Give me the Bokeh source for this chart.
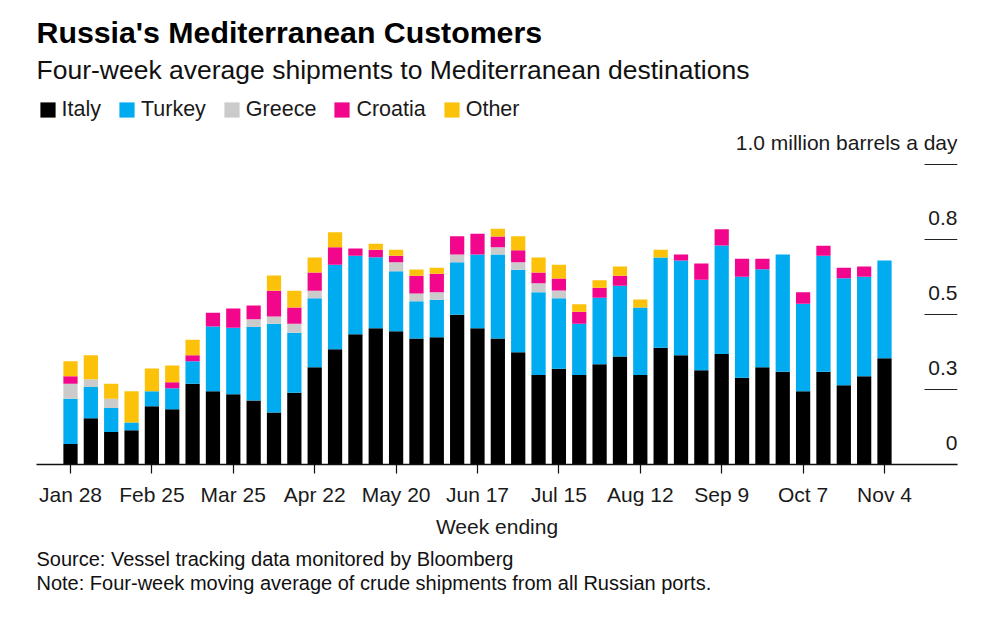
from bokeh.plotting import figure
from bokeh.models import ColumnDataSource, Legend, LegendItem, FixedTicker, Range1d, Title, Label
from bokeh.core.properties import value
from bokeh.embed import file_html
from bokeh.resources import INLINE

weeks = ["Jan 28", "Feb 4", "Feb 11", "Feb 18", "Feb 25", "Mar 4", "Mar 11", "Mar 18", "Mar 25",
         "Apr 1", "Apr 8", "Apr 15", "Apr 22", "Apr 29", "May 6", "May 13", "May 20", "May 27",
         "Jun 3", "Jun 10", "Jun 17", "Jun 24", "Jul 1", "Jul 8", "Jul 15", "Jul 22", "Jul 29",
         "Aug 5", "Aug 12", "Aug 19", "Aug 26", "Sep 2", "Sep 9", "Sep 16", "Sep 23", "Sep 30",
         "Oct 7", "Oct 14", "Oct 21", "Oct 28", "Nov 4"]

italy = [0.068, 0.154, 0.108, 0.114, 0.194, 0.184, 0.269, 0.244, 0.234, 0.213,
         0.173, 0.239, 0.324, 0.384, 0.434, 0.454, 0.444, 0.420, 0.424, 0.499,
         0.454, 0.420, 0.374, 0.298, 0.319, 0.298, 0.334, 0.360, 0.298, 0.389,
         0.364, 0.314, 0.368, 0.289, 0.324, 0.309, 0.244, 0.309, 0.264, 0.294, 0.354]
turkey = [0.151, 0.104, 0.080, 0.026, 0.050, 0.070, 0.075, 0.216, 0.222, 0.245,
          0.296, 0.200, 0.230, 0.282, 0.262, 0.237, 0.200, 0.124, 0.125, 0.175,
          0.246, 0.280, 0.275, 0.276, 0.235, 0.171, 0.222, 0.236, 0.225, 0.301,
          0.316, 0.302, 0.362, 0.337, 0.327, 0.391, 0.292, 0.387, 0.357, 0.332, 0.326]
greece = [0.050, 0.026, 0.031, 0, 0, 0, 0, 0, 0, 0.026,
          0.024, 0.030, 0.025, 0, 0, 0, 0.030, 0.026, 0.025, 0.026,
          0, 0.024, 0.025, 0.030, 0.026, 0, 0, 0, 0, 0,
          0, 0, 0, 0, 0, 0, 0, 0, 0, 0, 0]
croatia = [0.025, 0, 0, 0, 0, 0.020, 0.020, 0.046, 0.064, 0.046,
           0.086, 0.054, 0.061, 0.058, 0.024, 0.025, 0.022, 0.059, 0.062, 0.061,
           0.069, 0.036, 0.040, 0.036, 0.040, 0.040, 0.033, 0.033, 0, 0,
           0.020, 0.054, 0.054, 0.060, 0.035, 0, 0.038, 0.033, 0.035, 0.034, 0]
other = [0.050, 0.080, 0.050, 0.104, 0.076, 0.056, 0.052, 0, 0, 0,
         0.051, 0.056, 0.050, 0.050, 0, 0.020, 0.020, 0.021, 0.020, 0,
         0, 0.026, 0.047, 0.050, 0.046, 0.025, 0.025, 0.031, 0.027, 0.026,
         0, 0, 0, 0, 0, 0, 0, 0, 0, 0, 0]

series = ["Italy", "Turkey", "Greece", "Croatia", "Other"]
colors = ["#000000", "#00abf0", "#cbcbcb", "#f2078c", "#fcc20a"]

y_ticks = [0, 0.25, 0.5, 0.75, 1.0]
y_tick_labels = ["0", "0.3", "0.5", "0.8", "1.0 million barrels a day"]

FONT = "Liberation Sans"

x = list(range(len(weeks)))
source = ColumnDataSource(dict(x=x, Italy=italy, Turkey=turkey, Greece=greece,
                               Croatia=croatia, Other=other))

# frame: left 36, right 957, top 0, bottom 464 (px)
FRAME_L = 36
FRAME_W = 957 - FRAME_L
FRAME_B = 464
px_per_week = 20.35
x_start = -(70 - FRAME_L) / px_per_week
x_end = x_start + FRAME_W / px_per_week
y_end = FRAME_B / 300.0

p = figure(width=997, height=624, output_backend="svg", toolbar_location=None,
           x_range=Range1d(x_start, x_end), y_range=Range1d(0, y_end),
           y_axis_location=None, title_location=None,
           min_border_left=FRAME_L, min_border_right=997 - 957,
           min_border_top=0, min_border_bottom=624 - FRAME_B)
p.outline_line_color = None
p.grid.visible = False
p.background_fill_color = "white"
p.border_fill_color = "white"

rs = p.vbar_stack(series, x="x", width=0.7, source=source, color=colors, line_color=None)

# y "gridline" stubs and labels at right
seg_x0 = x_start + (924 - FRAME_L) / px_per_week
p.segment(x0=[seg_x0] * len(y_ticks), x1=[x_end] * len(y_ticks), y0=y_ticks, y1=y_ticks,
          line_color="#222222", line_width=1.2)
p.text(x=[x_end] * len(y_ticks), y=y_ticks, text=y_tick_labels, text_align="right",
       text_baseline="alphabetic", y_offset=-22, text_font=value(FONT),
       text_font_size="21px", text_color="#1a1a1a")

ax = p.xaxis[0]
ax.ticker = FixedTicker(ticks=x[::4])
ax.major_label_overrides = {i: weeks[i] for i in x[::4]}
ax.major_tick_in = 0
ax.major_tick_out = 9
ax.minor_tick_line_color = None
ax.axis_line_color = "#111111"
ax.axis_line_width = 1.5
ax.major_tick_line_color = "#111111"
ax.major_tick_line_width = 1.2
ax.major_label_text_font = FONT
ax.major_label_text_font_size = "21px"
ax.major_label_text_color = "#1a1a1a"
ax.major_label_standoff = 9
ax.axis_label = "Week ending"
ax.axis_label_text_font = FONT
ax.axis_label_text_font_size = "21px"
ax.axis_label_text_font_style = "normal"
ax.axis_label_text_color = "#1a1a1a"
ax.axis_label_standoff = 6

# Legend inside the frame, near the top
items = [LegendItem(label=s, renderers=[r]) for s, r in zip(series, rs)]
legend = Legend(items=items, orientation="horizontal", location=(1.5, FRAME_B - 121.5),
                glyph_width=19, glyph_height=19, label_height=15,
                label_standoff=5, spacing=16, padding=0, margin=0,
                border_line_color=None, background_fill_alpha=0,
                label_text_font=FONT, label_text_font_size="21.5px",
                label_text_color="#1a1a1a")
p.add_layout(legend, "center")

def screen_label(txt, sx, sy, size, style="normal", color="#111111"):
    lab = Label(x=sx - FRAME_L, y=FRAME_B - sy, x_units="screen", y_units="screen", text=txt,
                text_font=FONT, text_font_size=size, text_font_style=style,
                text_color=color, text_baseline="alphabetic", text_align="left")
    p.add_layout(lab)

screen_label("Russia's Mediterranean Customers", 36, 31.5, "30.3px", "bold", "#000000")
screen_label("Four-week average shipments to Mediterranean destinations", 36, 69, "26.5px")

notes = Title(text="Source: Vessel tracking data monitored by Bloomberg\n"
                   "Note: Four-week moving average of crude shipments from all Russian ports.",
              align="left", text_font=FONT, text_font_size="20px", text_font_style="normal",
              text_line_height=1.1, text_color="#111111", standoff=11)
p.add_layout(notes, "below")

open("out.html", "w").write(file_html(p, INLINE))
